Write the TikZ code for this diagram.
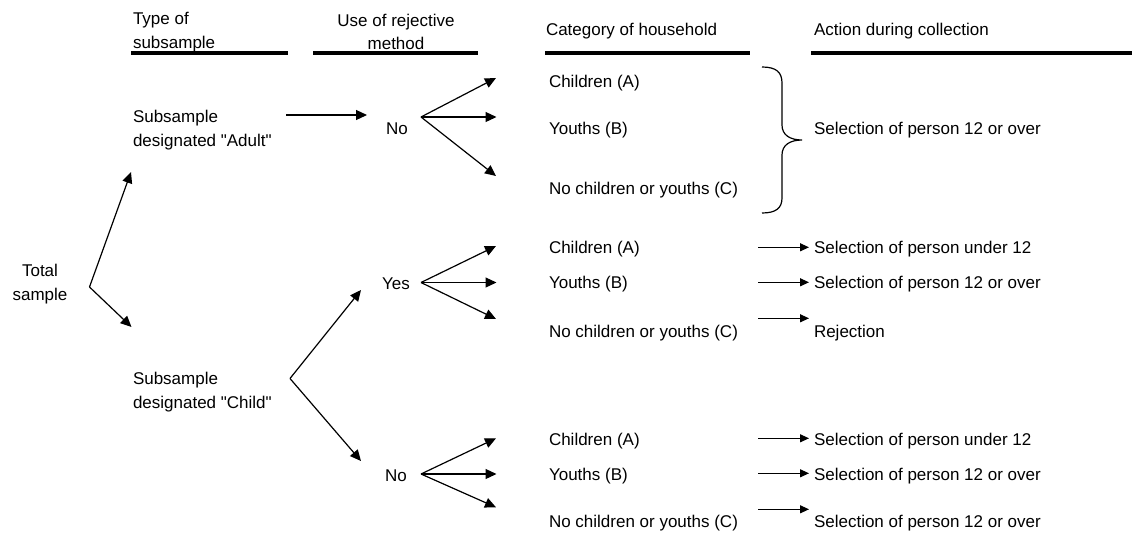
\documentclass[tikz,border=0pt]{standalone}
\usepackage{fontspec}
\setmainfont{Liberation Sans}
\usetikzlibrary{arrows.meta}
\begin{document}
\begin{tikzpicture}[x=1pt,y=-1pt,
  every node/.style={inner sep=0pt,outer sep=0pt,font=\fontsize{17pt}{23.5pt}\selectfont},
  lbl/.style={anchor=base west},
  conn/.style={line width=1.2pt,-{Triangle[length=11pt,width=10pt]}},
  sconn/.style={line width=1.2pt,-{Triangle[length=9pt,width=8pt]}},
  rule/.style={line width=3.5pt}]
\useasboundingbox (0,0) rectangle (1132,533);

% headers
\node[anchor=west,align=left] (hType) at (133,32) {Type of\\subsample};
\node[align=center] (hUse) at (396,32) {Use of rejective\\method};
\node[lbl] (hCat) at (546,35) {Category of household};
\node[lbl] (hAct) at (814,35) {Action during collection};
\coordinate (r1a) at (131,53); \coordinate (r1b) at (288,53);
\coordinate (r2a) at (313,53); \coordinate (r2b) at (478,53);
\coordinate (r3a) at (545,53); \coordinate (r3b) at (750,53);
\coordinate (r4a) at (811,53); \coordinate (r4b) at (1132,53);
\draw[rule] (r1a) -- (r1b);
\draw[rule] (r2a) -- (r2b);
\draw[rule] (r3a) -- (r3b);
\draw[rule] (r4a) -- (r4b);

% total sample
\node[align=center] (total) at (40,284) {Total\\sample};
\coordinate (tv) at (89.5,287);
\coordinate (tup) at (131,172);
\coordinate (tdn) at (131.5,327);
\draw[conn] (tv) -- (tup);
\draw[conn] (tv) -- (tdn);

% adult branch
\node[anchor=west,align=left] (adult) at (133,130) {Subsample\\designated \textquotedbl Adult\textquotedbl};
\coordinate (aS) at (286,115);
\coordinate (aE) at (367,115);
\draw[conn] (aS) -- (aE);
\node[anchor=base] (noA) at (397,134) {No};
\coordinate (fA) at (421,117);
\coordinate (fA1) at (496,78);
\coordinate (fA2) at (496.5,117);
\coordinate (fA3) at (496,176);
\draw[conn] (fA) -- (fA1);
\draw[conn] (fA) -- (fA2);
\draw[conn] (fA) -- (fA3);
\node[lbl] (aA) at (549,87.5) {Children (A)};
\node[lbl] (aB) at (549,134) {Youths (B)};
\node[lbl] (aC) at (549,194) {No children or youths (C)};
\draw[line width=1.2pt] (762,67) .. controls (776,67) and (782,72) .. (782,83)
  -- (782,125) .. controls (782,135) and (790,140) .. (802,140)
  .. controls (790,140) and (782,145) .. (782,155)
  -- (782,198) .. controls (782,208) and (776,213) .. (762,213);
\node[lbl] (aAct) at (814,134) {Selection of person 12 or over};

% child branch
\node[anchor=west,align=left] (child) at (133,392) {Subsample\\designated \textquotedbl Child\textquotedbl};
\coordinate (cv) at (290,378.5);
\coordinate (cup) at (361,290);
\coordinate (cdn) at (361,461);
\draw[conn] (cv) -- (cup);
\draw[conn] (cv) -- (cdn);

% yes
\node[anchor=base] (yes) at (396,289) {Yes};
\coordinate (fY) at (421,282.5);
\coordinate (fY1) at (496,246);
\coordinate (fY2) at (496.5,282.5);
\coordinate (fY3) at (496,319);
\draw[conn] (fY) -- (fY1);
\draw[conn] (fY) -- (fY2);
\draw[conn] (fY) -- (fY3);
\node[lbl] (yA) at (549,253.5) {Children (A)};
\node[lbl] (yB) at (549,288.5) {Youths (B)};
\node[lbl] (yC) at (549,337) {No children or youths (C)};
\coordinate (yAs) at (758,247.3); \coordinate (yAe) at (809,247.3);
\coordinate (yBs) at (758,282.3); \coordinate (yBe) at (809,282.3);
\coordinate (yCs) at (758,318.3); \coordinate (yCe) at (809,318.3);
\draw[sconn] (yAs) -- (yAe);
\draw[sconn] (yBs) -- (yBe);
\draw[sconn] (yCs) -- (yCe);
\node[lbl] (yAact) at (814,253.5) {Selection of person under 12};
\node[lbl] (yBact) at (814,288.5) {Selection of person 12 or over};
\node[lbl] (yCact) at (814,337) {Rejection};

% no (child)
\node[anchor=base] (noC) at (396,481) {No};
\coordinate (fN) at (421,474);
\coordinate (fN1) at (496,438.3);
\coordinate (fN2) at (496.5,474);
\coordinate (fN3) at (496,507.3);
\draw[conn] (fN) -- (fN1);
\draw[conn] (fN) -- (fN2);
\draw[conn] (fN) -- (fN3);
\node[lbl] (nA) at (549,445) {Children (A)};
\node[lbl] (nB) at (549,480) {Youths (B)};
\node[lbl] (nC) at (549,527.5) {No children or youths (C)};
\coordinate (nAs) at (758,438.3); \coordinate (nAe) at (809,438.3);
\coordinate (nBs) at (758,473.3); \coordinate (nBe) at (809,473.3);
\coordinate (nCs) at (758,509.3); \coordinate (nCe) at (809,509.3);
\draw[sconn] (nAs) -- (nAe);
\draw[sconn] (nBs) -- (nBe);
\draw[sconn] (nCs) -- (nCe);
\node[lbl] (nAact) at (814,445) {Selection of person under 12};
\node[lbl] (nBact) at (814,480) {Selection of person 12 or over};
\node[lbl] (nCact) at (814,527.5) {Selection of person 12 or over};
\end{tikzpicture}
\end{document}
